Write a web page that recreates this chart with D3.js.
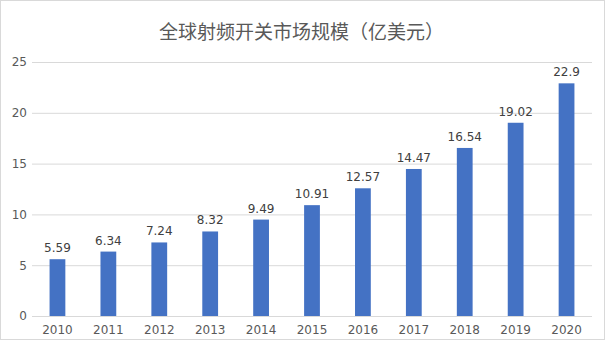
<!DOCTYPE html>
<html><head><meta charset="utf-8">
<script src="https://cdn.jsdelivr.net/npm/d3@7"></script>
<style>html,body{margin:0;padding:0;background:#fff;}svg{display:block;}</style>
</head><body>
<svg id="c" width="605" height="340"></svg>
<script>
const title = "全球射频开关市场规模（亿美元）";
const years = ["2010","2011","2012","2013","2014","2015","2016","2017","2018","2019","2020"];
const values = [5.59, 6.34, 7.24, 8.32, 9.49, 10.91, 12.57, 14.47, 16.54, 19.02, 22.9];
const yTicks = [0, 5, 10, 15, 20, 25];

const svg = d3.select("#c");
const W = 605, H = 340;
const m = {left: 32, right: 13, top: 62, bottom: 24};

svg.append("rect").attr("x",0.5).attr("y",0.5).attr("width",W-1).attr("height",H-1)
  .attr("fill","#fff").attr("stroke","#d9d9d9");

const x = d3.scaleBand().domain(years).range([m.left, W - m.right]).paddingInner(0.69).paddingOuter(0.345);
const y = d3.scaleLinear().domain([0, 25]).range([H - m.bottom, m.top]);

svg.append("text").attr("x", 301.5).attr("y", 39).attr("text-anchor","middle")
  .attr("font-family","'Noto Sans CJK SC', sans-serif").attr("font-size",19).attr("fill","#595959")
  .text(title);

const yAxis = d3.axisLeft(y).tickValues(yTicks).tickSize(-(W - m.left - m.right)).tickPadding(5).tickFormat(d3.format("d"));
const gy = svg.append("g").attr("transform",`translate(${m.left},0)`).call(yAxis);
gy.select(".domain").remove();
gy.selectAll(".tick line").attr("stroke","#d9d9d9");
gy.selectAll(".tick text").attr("font-family","'DejaVu Sans', sans-serif").attr("font-size",12).attr("fill","#595959");

const xAxis = d3.axisBottom(x).tickSize(0).tickPadding(9);
const gx = svg.append("g").attr("transform",`translate(0,${H - m.bottom})`).call(xAxis);
gx.select(".domain").remove();
gx.selectAll(".tick text").attr("font-family","'DejaVu Sans', sans-serif").attr("font-size",12).attr("fill","#595959");

svg.append("g").selectAll("rect").data(values).join("rect")
  .attr("x",(d,i)=>x(years[i])).attr("width",x.bandwidth())
  .attr("y",d=>y(d)).attr("height",d=>y(0)-y(d)).attr("fill","#4472C4");

svg.append("line").attr("x1",m.left).attr("x2",W-m.right).attr("y1",y(0)+0.5).attr("y2",y(0)+0.5).attr("stroke","#d9d9d9");

svg.append("g").selectAll("text").data(values).join("text")
  .attr("x",(d,i)=>x(years[i])+x.bandwidth()/2).attr("y",d=>y(d)-7)
  .attr("text-anchor","middle").attr("font-family","'DejaVu Sans', sans-serif").attr("font-size",12).attr("fill","#404040")
  .text(d=>String(d));
</script>
</body></html>
